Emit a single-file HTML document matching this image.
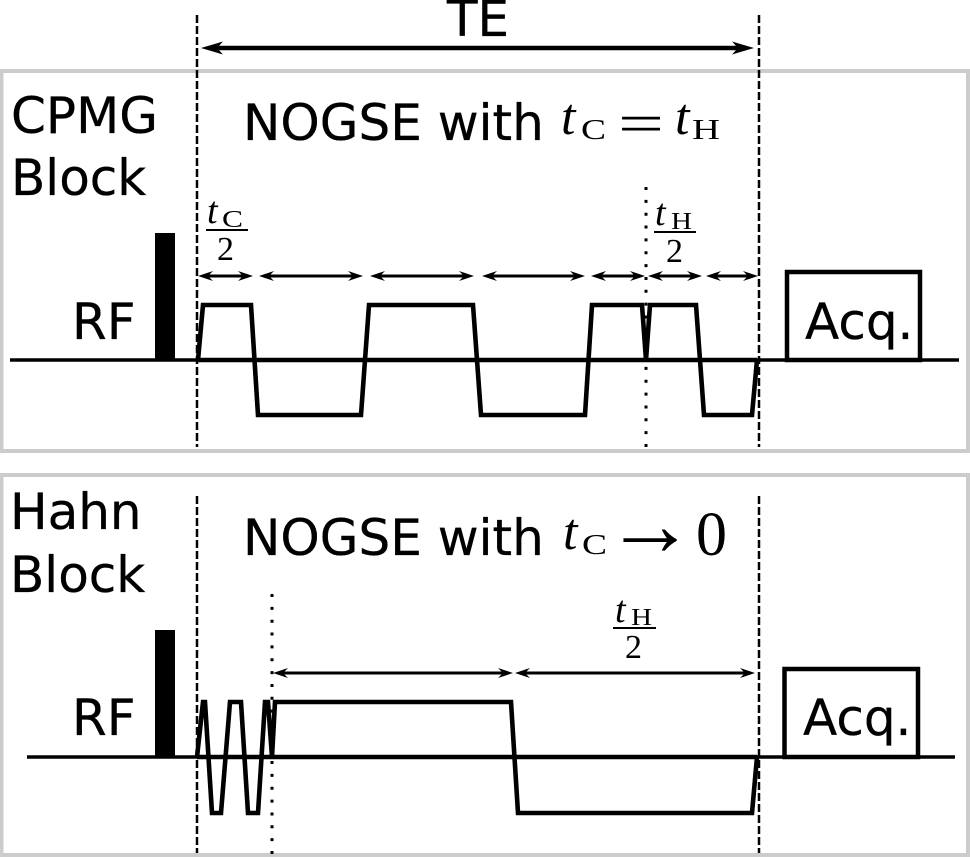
<!DOCTYPE html>
<html><head><meta charset="utf-8"><style>
html,body{margin:0;padding:0;background:#fff;width:970px;height:857px;overflow:hidden}
svg{display:block}
.s{font-family:"DejaVu Sans",sans-serif;font-size:50px;fill:#000;stroke:#000;stroke-width:.3px}
.m{font-family:"Liberation Serif",serif;fill:#000}
.i{font-style:italic}
</style></head><body>
<svg width="970" height="857" viewBox="0 0 970 857" xmlns="http://www.w3.org/2000/svg">
<defs>
<path id="ah" d="M0 0L-22 -6.500L-16 0L-22 6.500Z" fill="#000"/>
<path id="as" d="M0 0L-15 -5L-10 0L-15 5Z" fill="#000"/>
</defs>
<rect x="1.500" y="71" width="966.500" height="380" fill="#fff" stroke="#ccc" stroke-width="4"/>
<rect x="1.500" y="475" width="966.500" height="380" fill="#fff" stroke="#ccc" stroke-width="4"/>

<g stroke="#000" stroke-width="2.500" fill="none" stroke-dasharray="8 3">
<path d="M197 15V447M759 15V447M197 496V853M759 496V853"/>
</g>
<g stroke="#000" stroke-width="3" fill="none" stroke-dasharray="3 9.850">
<path d="M646 187V448M272 594V855"/>
</g>

<rect x="155" y="233" width="20" height="127" fill="#000"/>
<rect x="155" y="630" width="20" height="127" fill="#000"/>
<rect x="787" y="272" width="133" height="88" fill="#fff" stroke="#000" stroke-width="4.500"/>
<rect x="784.500" y="669" width="133.500" height="88" fill="#fff" stroke="#000" stroke-width="4.500"/>
<path d="M10 360H959M27 757H955" stroke="#000" stroke-width="3.500" fill="none"/>
<path d="M197 360H757M197 757H757" stroke="#000" stroke-width="4.500" fill="none"/>

<g fill="none" stroke="#000" stroke-width="4.600" stroke-linejoin="miter">
<path d="M198 360L203 305H251L258 415H361L369 305H473L481 415H585L592 305H642L646 360L650 305H696L704 415H752L757 360"/>
<path d="M197 757L203 702H205L212 813H221L230 702H241L248 813H258L265 702H268L272 757L275 702H511L518 813H752L757 757"/>
</g>

<path d="M215 48H740" stroke="#000" stroke-width="4.500" fill="none"/>
<use href="#ah" transform="translate(754 48)"/>
<use href="#ah" transform="translate(201 48) rotate(180)"/>

<g stroke="#000" stroke-width="3" fill="none">
<path d="M205 276H246M266 276H356M377 276H467M489 276H578M598 276H638M655 276H695M713 276H751M280 673H506M522 673H748"/>
</g>
<g>
<use href="#as" transform="translate(198 276) rotate(180)"/><use href="#as" transform="translate(253 276)"/>
<use href="#as" transform="translate(259 276) rotate(180)"/><use href="#as" transform="translate(363 276)"/>
<use href="#as" transform="translate(370 276) rotate(180)"/><use href="#as" transform="translate(474 276)"/>
<use href="#as" transform="translate(482 276) rotate(180)"/><use href="#as" transform="translate(585 276)"/>
<use href="#as" transform="translate(591 276) rotate(180)"/><use href="#as" transform="translate(645 276)"/>
<use href="#as" transform="translate(648 276) rotate(180)"/><use href="#as" transform="translate(702 276)"/>
<use href="#as" transform="translate(706 276) rotate(180)"/><use href="#as" transform="translate(758 276)"/>
<use href="#as" transform="translate(273 673) rotate(180)"/><use href="#as" transform="translate(513 673)"/>
<use href="#as" transform="translate(515 673) rotate(180)"/><use href="#as" transform="translate(755 673)"/>
</g>

<text class="s" x="447" y="36">TE</text>
<text class="s" x="11" y="133">CPMG</text>
<text class="s" x="11" y="195">Block</text>
<text class="s" x="10" y="529">Hahn</text>
<text class="s" x="10" y="592">Block</text>
<text class="s" x="72" y="339">RF</text>
<text class="s" x="72" y="735">RF</text>
<text class="s" x="805" y="339">Acq.</text>
<text class="s" x="803" y="735">Acq.</text>
<text class="s" x="243" y="140">NOGSE with</text>
<text class="s" x="243" y="555">NOGSE with</text>

<text class="m i" x="561" y="134" font-size="52">t</text>
<text class="m" x="581" y="139" font-size="28" textLength="25" lengthAdjust="spacingAndGlyphs">C</text>
<text class="m" x="618" y="142" font-size="55" textLength="46" lengthAdjust="spacingAndGlyphs">=</text>
<text class="m i" x="675" y="134" font-size="52">t</text>
<text class="m" x="692" y="139" font-size="28" textLength="28" lengthAdjust="spacingAndGlyphs">H</text>

<text class="m i" x="563" y="549" font-size="52">t</text>
<text class="m" x="582" y="554" font-size="28" textLength="25" lengthAdjust="spacingAndGlyphs">C</text>
<text class="m" x="605" y="555" font-size="90">→</text>
<text class="m" x="696" y="555" font-size="62">0</text>

<text class="m i" x="207" y="223" font-size="38">t</text>
<text class="m" x="222" y="227" font-size="24" textLength="21" lengthAdjust="spacingAndGlyphs">C</text>
<path d="M206 230H248" stroke="#000" stroke-width="2"/>
<text class="m" x="217" y="260" font-size="34">2</text>

<text class="m i" x="655" y="225" font-size="38">t</text>
<text class="m" x="671" y="229" font-size="24" textLength="21" lengthAdjust="spacingAndGlyphs">H</text>
<path d="M654 232H696" stroke="#000" stroke-width="2"/>
<text class="m" x="666" y="262" font-size="34">2</text>

<text class="m i" x="615" y="622" font-size="38">t</text>
<text class="m" x="631" y="625" font-size="24" textLength="21" lengthAdjust="spacingAndGlyphs">H</text>
<path d="M613 628H656" stroke="#000" stroke-width="2"/>
<text class="m" x="625" y="658" font-size="34">2</text>
</svg>
</body></html>
